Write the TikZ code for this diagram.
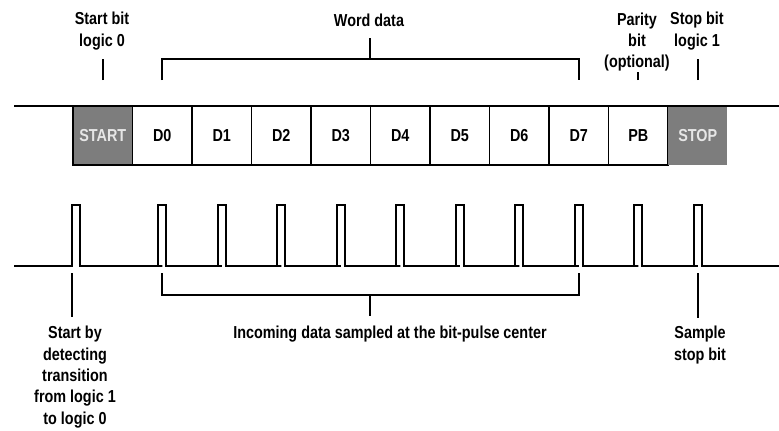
\documentclass[tikz,border=0pt]{standalone}
\usepackage{fontspec}
\newfontfamily\lblfont[FakeStretch=0.83]{Liberation Sans}
\usetikzlibrary{positioning}
\definecolor{bitgray}{HTML}{7D7D7D}
\definecolor{bittext}{HTML}{E6E6E6}
\tikzset{
	lbl/.style={font=\lblfont\bfseries\fontsize{13}{16}\selectfont,align=center,inner sep=0pt},
	cell/.style={draw,rectangle,minimum width=44.6pt,minimum height=44.25pt,inner sep=0pt,lbl},
	graycell/.style={cell,fill=bitgray,text=bittext},
	every path/.style={line width=1.4pt}
}
\begin{document}
\begin{tikzpicture}[x=0.75pt,y=-0.75pt]
            \useasboundingbox (0,0) rectangle (779,430);
            \coordinate (topL) at (14,106);
            \coordinate (topR) at (779,106);
            \coordinate (base) at (14,266);
            \coordinate (baseR) at (779,266);
            \coordinate (tt) at (0,59);
            \coordinate (tb) at (0,80);
            \coordinate (bt) at (0,273);
            \coordinate (bb) at (0,295);
            \coordinate (mid) at (370,0);
            \node[graycell] (start) at (102.75,135.5) {START};
            \node[cell] (d0) at (162.25,135.5) {D0};
            \node[cell] (d1) at (221.75,135.5) {D1};
            \node[cell] (d2) at (281.25,135.5) {D2};
            \node[cell] (d3) at (340.75,135.5) {D3};
            \node[cell] (d4) at (400.25,135.5) {D4};
            \node[cell] (d5) at (459.75,135.5) {D5};
            \node[cell] (d6) at (519.25,135.5) {D6};
            \node[cell] (d7) at (578.75,135.5) {D7};
            \node[cell] (pb) at (638.25,135.5) {PB};
            \node[graycell,draw=none] (stop) at (697.75,135.5) {STOP};
            \draw (topL) -- (topR);
            \draw (base) -- (start.west |- base) -- ++(0,-61) -- ++(8,0) -- ++(0,61)
                \foreach \cell in {d0,d1,d2,d3,d4,d5,d6,d7,pb,stop} {
                    -- (\cell |- base) -- ++(-4,0) -- ++(0,-61) -- ++(8,0) -- ++(0,61)
                } -- (baseR);
            \node[lbl] (startlbl) at (102,31) {Start bit\\logic 0};
            \node[lbl] (wordlbl) at (369,20) {Word data};
            \node[lbl] (paritylbl) at (637,42) {Parity\\bit\\(optional)};
            \node[lbl] (stoplbl) at (697,31) {Stop bit\\logic 1};
            \draw (start |- tb) -- (start |- tt);
            \draw (d0 |- tb) -- (d0 |- tt) -- (d7 |- tt) -- (d7 |- tb);
            \draw (mid |- tt) -- ++(0,-21);
            \draw (pb |- tb) -- ++(0,-8);
            \draw (stop |- tb) -- (stop |- tt);
            \node[lbl] (detectlbl) at (75,377) {Start by\\detecting\\transition\\from logic 1\\to logic 0};
            \node[lbl] (inclbl) at (390,334) {Incoming data sampled at the bit-pulse center};
            \node[lbl] (samplelbl) at (700,345) {Sample\\stop bit};
            \draw (start.west |- bt) -- ++(0,44);
            \draw (d0 |- bt) -- (d0 |- bb) -- (d7 |- bb) -- (d7 |- bt);
            \draw (mid |- bb) -- ++(0,21);
            \draw (stop |- bt) -- ++(0,45);
        \end{tikzpicture}
\end{document}
